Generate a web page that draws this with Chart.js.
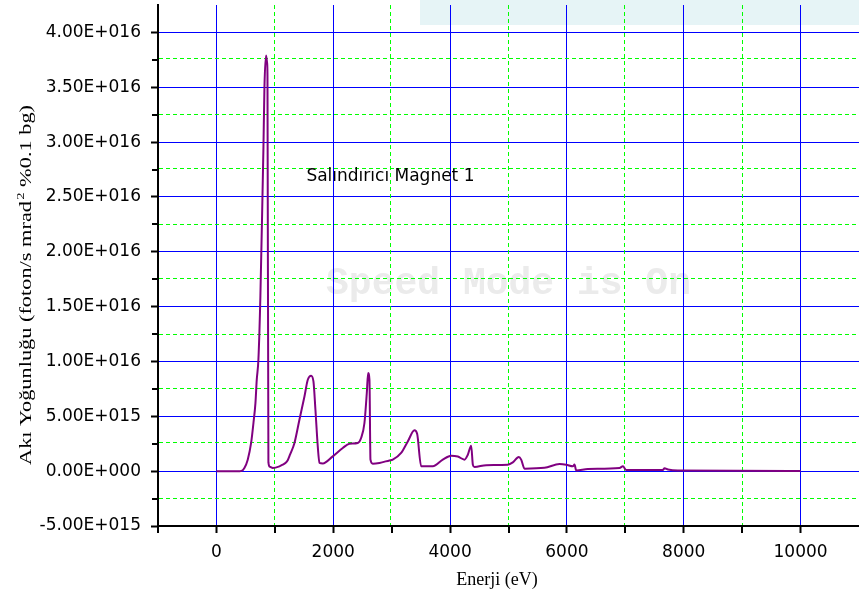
<!DOCTYPE html>
<html>
<head>
<meta charset="utf-8">
<script src="https://cdn.jsdelivr.net/npm/chart.js@4.4.1/dist/chart.umd.min.js"></script>
<style>
  html, body { margin: 0; padding: 0; background: #fff; }
  #wrap { width: 859px; height: 597px; }
</style>
</head>
<body>
<div id="wrap"><canvas id="spectrum" width="859" height="597"></canvas></div>
<script>
// Salındırıcı (undulator) flux spectrum

const energy = [
  0, 400, 430, 479, 536, 594, 634, 668, 690, 719, 753, 790, 805, 822, 850, 868,
  874, 890, 915, 964, 1079, 1135, 1180, 1221, 1260, 1336, 1421, 1507, 1564, 1621, 1661,
  1695, 1735, 1764, 1821, 1992, 2163, 2277, 2420, 2477, 2534, 2574, 2597, 2620,
  2637, 2677, 2791, 2962, 3019, 3162, 3276, 3390, 3436, 3505, 3704, 3875, 4018,
  4132, 4247, 4304, 4361, 4390, 4418, 4618, 4988, 5074, 5177, 5217, 5274, 5616,
  5873, 5988, 6102, 6130, 6159, 6359, 6901, 6958, 7016, 7642, 7671, 7729, 7900,
  10000
];
const flux = [
  0, 0, 2e13, 2.9e14, 1.05e15, 2.57e15, 4.39e15, 6.2e15, 8.3e15, 1.02e16, 1.6e16,
  2.55e16, 2.95e16, 3.5e16, 3.79e16, 3.72e16,
  3.6e16, 8e14, 4e14, 2.9e14, 4.4e14, 5.9e14, 7.4e14, 1.0e15, 1.5e15, 2.57e15, 4.69e15,
  6.81e15, 8.33e15, 8.7e15, 8.18e15,
  5.6e15, 2.26e15, 7.5e14, 7e14, 1.35e15, 2.11e15, 2.5e15, 2.57e15, 3.02e15,
  4.39e15, 7.1e15, 8.94e15, 8.3e15,
  1.05e15, 6.8e14, 7.5e14, 9.8e14, 1.05e15, 1.66e15, 2.71e15, 3.72e15, 3.4e15,
  4.4e14, 4.4e14, 1.05e15, 1.41e15,
  1.33e15, 1.05e15, 1.5e15, 2.32e15, 5.9e14, 3.8e14, 5.5e14, 5.9e14, 8e14,
  1.29e15, 1.05e15, 2.3e14, 3e14,
  6.5e14, 5.9e14, 4.4e14, 6e14, 7e13, 2e14, 2.9e14, 4.4e14, 1e14, 1e14, 2.7e14,
  1.5e14, 5e13,
  2e13
];

const xMajorTicks = [0, 2000, 4000, 6000, 8000, 10000];
const xMinorTicks = [-1000, 1000, 3000, 5000, 7000, 9000];
const yMajorTicks = [-5e15, 0, 5e15, 1e16, 1.5e16, 2e16, 2.5e16, 3e16, 3.5e16, 4e16];
const yMinorTicks = [-2.5e15, 2.5e15, 7.5e15, 1.25e16, 1.75e16, 2.25e16, 2.75e16, 3.25e16, 3.75e16];

const seriesLabel = 'Salındırıcı Magnet 1';
const xTitle = 'Enerji (eV)';
const yTitleParts = ['Akı Yoğunluğu (foton/s mrad', '2', ' %0.1 bg)'];
const watermark = 'Speed Mode is On';

// "4.00E+016" style labels
function sciLabel(v) {
  const [mant, exp] = v.toExponential(2).split('e');
  return mant + 'E' + exp[0] + exp.slice(1).padStart(3, '0');
}

// thin dashed lines keep their colour better on even pixels
const evenPx = p => Math.floor(p / 2) * 2 + 0.5;

const backdrop = {
  id: 'backdrop',
  beforeDraw(chart) {
    const { ctx, scales: { x, y } } = chart;
    ctx.save();
    ctx.fillStyle = '#fff';
    ctx.fillRect(0, 0, chart.width, chart.height);
    // faint strip left over at the top right of the screenshot
    ctx.fillStyle = '#e6f4f6';
    ctx.fillRect(420, 0, chart.width - 420, 25);
    ctx.font = 'bold 38px "Liberation Mono"';
    ctx.fillStyle = '#ebebeb';
    ctx.textAlign = 'center';
    ctx.textBaseline = 'middle';
    ctx.fillText(watermark, x.getPixelForValue(5000), y.getPixelForValue(1.7e16));
    ctx.restore();
  }
};

const minorGrid = {
  id: 'minorGrid',
  beforeDatasetsDraw(chart) {
    const { ctx, chartArea: a, scales: { x, y } } = chart;
    ctx.save();
    ctx.lineWidth = 1;
    ctx.strokeStyle = '#00ff00';
    ctx.setLineDash([4, 3]);
    ctx.beginPath();
    xMinorTicks.forEach(v => {
      const px = evenPx(x.getPixelForValue(v));
      if (px < a.left + 2) return;
      ctx.moveTo(px, a.top);
      ctx.lineTo(px, a.bottom - 1);
    });
    yMinorTicks.forEach(v => {
      const py = evenPx(y.getPixelForValue(v));
      ctx.moveTo(a.left + 1, py);
      ctx.lineTo(a.right, py);
    });
    ctx.stroke();
    // minor tick marks
    ctx.setLineDash([]);
    ctx.strokeStyle = '#000';
    ctx.lineWidth = 2;
    ctx.beginPath();
    xMinorTicks.forEach(v => {
      const px = Math.round(x.getPixelForValue(v));
      ctx.moveTo(px, a.bottom);
      ctx.lineTo(px, a.bottom + 7);
    });
    yMinorTicks.forEach(v => {
      const py = Math.round(y.getPixelForValue(v));
      ctx.moveTo(a.left - 6, py);
      ctx.lineTo(a.left, py);
    });
    ctx.stroke();
    ctx.restore();
  }
};

const texts = {
  id: 'texts',
  afterDraw(chart) {
    const { ctx, scales: { x, y } } = chart;
    ctx.save();
    ctx.fillStyle = '#000';

    ctx.font = '17px "DejaVu Sans"';
    ctx.textAlign = 'left';
    ctx.textBaseline = 'middle';
    ctx.fillText(seriesLabel, x.getPixelForValue(1540), y.getPixelForValue(2.69e16));

    ctx.font = '18px "Liberation Serif"';
    ctx.textAlign = 'center';
    ctx.fillText(xTitle, 497, 580);

    // rotated y title, stretched to the length it has in the original
    ctx.translate(27, 465);
    ctx.rotate(-Math.PI / 2);
    ctx.textAlign = 'left';
    ctx.font = '17px "Liberation Serif"';
    const w1 = ctx.measureText(yTitleParts[0]).width;
    const w3 = ctx.measureText(yTitleParts[2]).width;
    ctx.font = '11px "Liberation Serif"';
    const w2 = ctx.measureText(yTitleParts[1]).width + 1;
    ctx.scale(360 / (w1 + w2 + w3), 1);
    ctx.font = '17px "Liberation Serif"';
    ctx.fillText(yTitleParts[0], 0, 0);
    ctx.fillText(yTitleParts[2], w1 + w2, 0);
    ctx.font = '11px "Liberation Serif"';
    ctx.fillText(yTitleParts[1], w1 + 1, -6);
    ctx.restore();
  }
};

new Chart(document.getElementById('spectrum'), {
  type: 'line',
  data: {
    datasets: [{
      label: seriesLabel,
      data: energy.map((e, i) => ({ x: e, y: flux[i] })),
      borderColor: '#800080',
      borderWidth: 2,
      pointRadius: 0,
      fill: false,
      tension: 0,
      cubicInterpolationMode: 'monotone'
    }]
  },
  options: {
    responsive: false,
    animation: false,
    layout: { padding: { top: 5, right: 0, bottom: 0, left: 0 } },
    plugins: {
      legend: { display: false },
      tooltip: { enabled: false }
    },
    scales: {
      x: {
        type: 'linear',
        min: -1000,
        max: 11000,
        afterBuildTicks: s => { s.ticks = xMajorTicks.map(v => ({ value: v })); },
        afterFit: s => { s.height = 71; s.paddingLeft = 0; s.paddingRight = 0; },
        grid: { color: '#0000ff', lineWidth: 1, tickLength: 7, tickColor: '#000', tickWidth: 2 },
        border: { color: '#000', width: 2 },
        ticks: {
          font: { family: 'DejaVu Sans', size: 17 },
          color: '#000',
          padding: 9,
          maxRotation: 0,
          autoSkip: false,
          callback: v => String(v)
        }
      },
      y: {
        min: -5e15,
        max: 4.25e16,
        afterBuildTicks: s => { s.ticks = yMajorTicks.map(v => ({ value: v })); },
        afterFit: s => { s.width = 158; s.paddingTop = 0; s.paddingBottom = 0; },
        grid: { color: '#0000ff', lineWidth: 1, tickLength: 7, tickColor: '#000', tickWidth: 2 },
        border: { color: '#000', width: 2 },
        ticks: {
          font: { family: 'DejaVu Sans', size: 17 },
          color: '#000',
          padding: 10,
          autoSkip: false,
          callback: v => sciLabel(v)
        }
      }
    }
  },
  plugins: [backdrop, minorGrid, texts]
});
</script>
</body>
</html>
